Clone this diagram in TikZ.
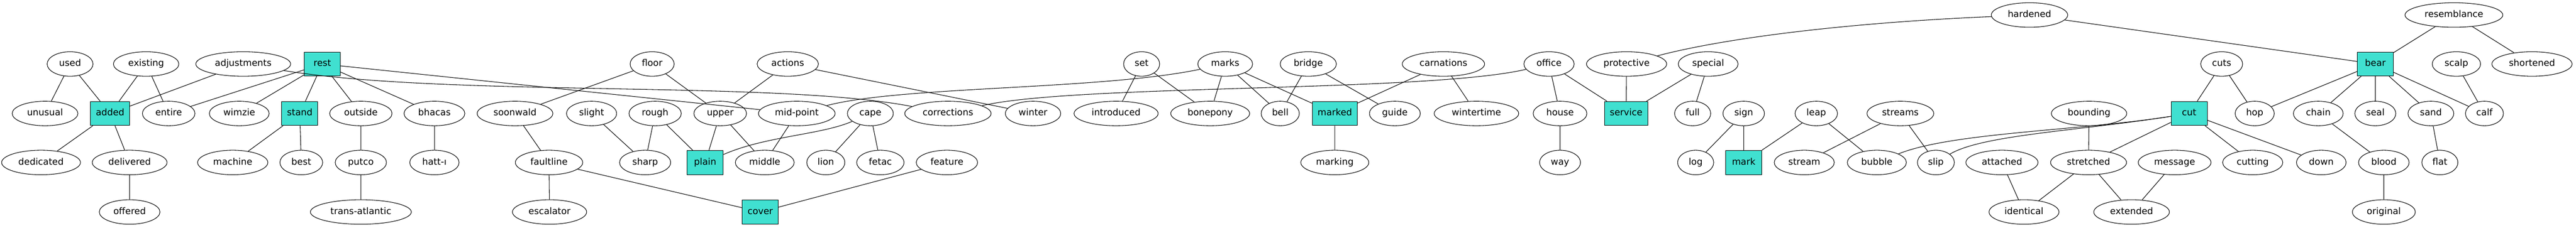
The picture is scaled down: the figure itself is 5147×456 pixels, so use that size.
\documentclass[tikz,border=0pt]{standalone}
\usepackage{fontspec}
\setmainfont{DejaVu Sans}
\usetikzlibrary{shapes.geometric}

\definecolor{hubfill}{RGB}{64,224,208}
\tikzset{
  word/.style={ellipse,draw,line width=1.1pt,minimum width=72pt,minimum height=49pt,
    inner xsep=10.5pt,inner ysep=2pt,text height=13pt,text depth=4pt,
    font=\fontsize{18.2}{22}\selectfont},
  hub/.style={rectangle,draw,fill=hubfill,line width=1.1pt,minimum width=72pt,minimum height=48pt,
    inner xsep=10.5pt,inner ysep=2pt,text height=13pt,text depth=4pt,
    font=\fontsize{18.2}{22}\selectfont},
  link/.style={line width=1.1pt}
}

\begin{document}
\begin{tikzpicture}[x=1pt,y=-1pt]
\useasboundingbox (0,0) rectangle (5147,456);
% Top row
\node[word] at (4055,30) (hardened) {hardened};
\node[word] at (4903,30) (resemblance) {resemblance};
% Second row
\node[word] at (140,128) (used) {used};
\node[word] at (292,128) (existing) {existing};
\node[word] at (486,128) (adjustments) {adjustments};
\node[hub] at (644,128) (rest) {rest};
\node[word] at (1303,128) (floor) {floor};
\node[word] at (1574,128) (actions) {actions};
\node[word] at (2281,128) (set) {set};
\node[word] at (2448,128) (marks) {marks};
\node[word] at (2614,128) (bridge) {bridge};
\node[word] at (2884,128) (carnations) {carnations};
\node[word] at (3095,128) (office) {office};
\node[word] at (3250,128) (protective) {protective};
\node[word] at (3413,128) (special) {special};
\node[word] at (4439,128) (cuts) {cuts};
\node[hub] at (4746,128) (bear) {bear};
\node[word] at (4908,128) (scalp) {scalp};
\node[word] at (5059,128) (shortened) {shortened};
% Third row
\node[word] at (90,227) (unusual) {unusual};
\node[hub] at (220,227) (added) {added};
\node[word] at (337,227) (entire) {entire};
\node[word] at (478,227) (wimzie) {wimzie};
\node[hub] at (599,227) (stand) {stand};
\node[word] at (721,227) (outside) {outside};
\node[word] at (868,227) (bhacas) {bhacas};
\node[word] at (1029,227) (soonwald) {soonwald};
\node[word] at (1182,227) (slight) {slight};
\node[word] at (1309,227) (rough) {rough};
\node[word] at (1439,227) (upper) {upper};
\node[word] at (1592,227) (midpoint) {mid-point};
\node[word] at (1739,227) (cape) {cape};
\node[word] at (1894,227) (corrections) {corrections};
\node[word] at (2064,227) (winter) {winter};
\node[word] at (2230,227) (introduced) {introduced};
\node[word] at (2418,227) (bonepony) {bonepony};
\node[word] at (2558,227) (bell) {bell};
\node[hub] at (2667,227) (marked) {marked};
\node[word] at (2787,227) (guide) {guide};
\node[word] at (2950,227) (wintertime) {wintertime};
\node[word] at (3117,227) (house) {house};
\node[hub] at (3249,227) (service) {service};
\node[word] at (3382,227) (full) {full};
\node[word] at (3484,227) (sign) {sign};
\node[word] at (3629,227) (leap) {leap};
\node[word] at (3797,227) (streams) {streams};
\node[word] at (4174,227) (bounding) {bounding};
\node[hub] at (4374,227) (cut) {cut};
\node[word] at (4505,227) (hop) {hop};
\node[word] at (4632,227) (chain) {chain};
\node[word] at (4746,227) (seal) {seal};
\node[word] at (4857,227) (sand) {sand};
\node[word] at (4964,227) (calf) {calf};
% Fourth row
\node[word] at (82,325) (dedicated) {dedicated};
\node[word] at (259,325) (delivered) {delivered};
\node[word] at (465,325) (machine) {machine};
\node[word] at (602,325) (best) {best};
\node[word] at (721,325) (putco) {putco};
\node[word] at (868,325) (hatt) {hatt-ı};
\node[word] at (1097,325) (faultline) {faultline};
\node[word] at (1289,325) (sharp) {sharp};
\node[hub] at (1409,325) (plain) {plain};
\node[word] at (1528,325) (middle) {middle};
\node[word] at (1650,325) (lion) {lion};
\node[word] at (1759,325) (fetac) {fetac};
\node[word] at (1892,325) (feature) {feature};
\node[word] at (2667,325) (marking) {marking};
\node[word] at (3117,325) (way) {way};
\node[word] at (3388,325) (log) {log};
\node[hub] at (3484,325) (mark) {mark};
\node[word] at (3605,325) (stream) {stream};
\node[word] at (3750,325) (bubble) {bubble};
\node[word] at (3868,325) (slip) {slip};
\node[word] at (4000,325) (attached) {attached};
\node[word] at (4173,325) (stretched) {stretched};
\node[word] at (4345,325) (message) {message};
\node[word] at (4501,325) (cutting) {cutting};
\node[word] at (4638,325) (down) {down};
\node[word] at (4763,325) (blood) {blood};
\node[word] at (4875,325) (flat) {flat};
% Bottom row
\node[word] at (259,424) (offered) {offered};
\node[word] at (721,424) (transatlantic) {trans-atlantic};
\node[word] at (1098,424) (escalator) {escalator};
\node[hub] at (1519,424) (cover) {cover};
\node[word] at (4044,424) (identical) {identical};
\node[word] at (4259,424) (extended) {extended};
\node[word] at (4763,424) (original) {original};
% Links, left part
\draw[link] (used) -- (unusual) (used) -- (added) (existing) -- (added) (existing) -- (entire);
\draw[link] (adjustments) -- (added);
\draw[link] (adjustments) .. controls (900,195) and (1550,160) .. (corrections);
\draw[link] (rest) -- (entire) (rest) -- (wimzie) (rest) -- (stand) (rest) -- (outside) (rest) -- (bhacas);
\draw[link] (rest) -- (midpoint);
\draw[link] (added) -- (dedicated) (added) -- (delivered) (delivered) -- (offered);
\draw[link] (stand) -- (machine) (stand) -- (best);
\draw[link] (outside) -- (putco) (putco) -- (transatlantic) (bhacas) -- (hatt);
\draw[link] (floor) -- (soonwald) (floor) -- (upper) (soonwald) -- (faultline);
\draw[link] (faultline) -- (escalator) (faultline) -- (cover) (feature) -- (cover);
\draw[link] (slight) -- (sharp) (rough) -- (sharp) (rough) -- (plain);
\draw[link] (upper) -- (plain) (upper) -- (middle) (midpoint) -- (middle);
\draw[link] (actions) -- (upper) (actions) -- (winter);
\draw[link] (cape) .. controls (1640,270) and (1530,272) .. (plain);
\draw[link] (cape) -- (lion) (cape) -- (fetac);
% Links, middle part
\draw[link] (midpoint) .. controls (1800,172) and (2200,180) .. (marks);
\draw[link] (set) -- (introduced) (set) -- (bonepony);
\draw[link] (marks) -- (bonepony) (marks) -- (bell) (marks) -- (marked);
\draw[link] (bridge) -- (bell) (bridge) -- (guide);
\draw[link] (carnations) -- (marked) (carnations) -- (wintertime) (marked) -- (marking);
\draw[link] (corrections) .. controls (2150,168) and (2850,185) .. (office);
\draw[link] (office) -- (house) (office) -- (service) (house) -- (way);
\draw[link] (protective) -- (service) (special) -- (service) (special) -- (full);
\draw[link] (hardened) .. controls (3700,45) and (3450,75) .. (protective);
\draw[link] (sign) -- (log) (sign) -- (mark) (leap) -- (mark) (leap) -- (bubble);
\draw[link] (streams) -- (stream) (streams) -- (slip);
% Links, right part
\draw[link] (cut) .. controls (4150,262) and (3900,265) .. (bubble);
\draw[link] (cut) .. controls (4150,262) and (3960,270) .. (slip);
\draw[link] (cuts) -- (cut) (cuts) -- (hop);
\draw[link] (bounding) -- (stretched) (cut) -- (stretched) (cut) -- (cutting) (cut) -- (down);
\draw[link] (attached) -- (identical) (stretched) -- (identical);
\draw[link] (stretched) -- (extended) (message) -- (extended);
\draw[link] (hardened) -- (bear) (resemblance) -- (bear) (resemblance) -- (shortened);
\draw[link] (bear) -- (hop) (bear) -- (chain) (bear) -- (seal) (bear) -- (sand) (bear) -- (calf);
\draw[link] (scalp) -- (calf) (chain) -- (blood) (sand) -- (flat) (blood) -- (original);
\end{tikzpicture}
\end{document}
